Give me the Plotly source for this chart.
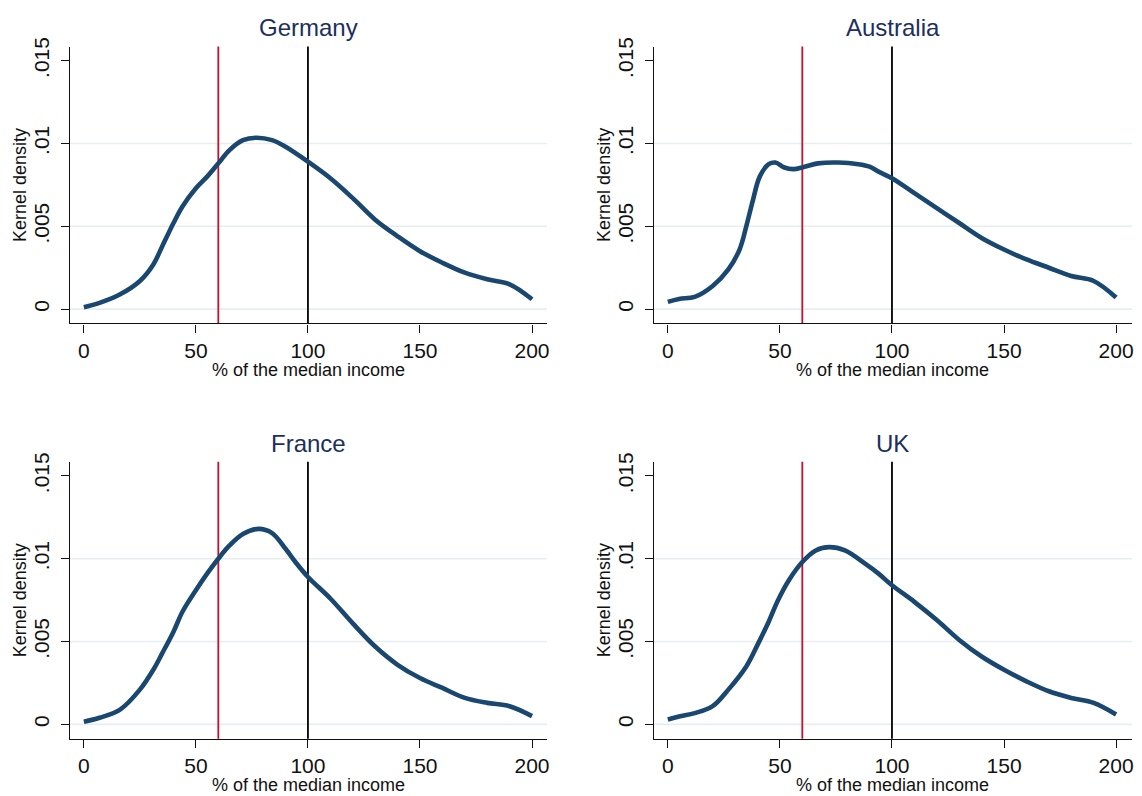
import plotly.graph_objects as go

# ---------------- data ----------------
countries = ["Germany", "Australia", "France", "UK"]

germany_x = [0, 7, 16, 25, 31, 35, 40, 44, 50, 55, 60, 65, 71, 77, 84, 90, 100, 110, 120, 130, 140, 150, 160,
             170, 180, 190, 200]
germany_y = [0.00012, 0.00038, 0.00088, 0.0017, 0.0027, 0.0038, 0.0052, 0.0062, 0.0073, 0.0080, 0.0088, 0.0096,
             0.0102, 0.01035, 0.0102, 0.0098, 0.0089, 0.0079, 0.0067, 0.0054, 0.0044, 0.0035, 0.0028, 0.0022,
             0.0018, 0.0015, 0.0006]

australia_x = [0, 5, 12, 20, 27, 32, 35, 38, 41, 45, 48, 52, 56, 61, 67, 76, 85, 90, 94, 100, 110, 120, 130,
               140, 150, 160, 170, 180, 190, 200]
australia_y = [0.00044, 0.00062, 0.00074, 0.0014, 0.0024, 0.0036, 0.0050, 0.0066, 0.0080, 0.00875, 0.00885,
               0.00855, 0.00845, 0.0086, 0.0088, 0.00885, 0.00875, 0.0086, 0.0083, 0.0079, 0.0070, 0.0061,
               0.0052, 0.0043, 0.0036, 0.0030, 0.0025, 0.0020, 0.0017, 0.0007]

france_x = [0, 7, 16, 25, 31, 35, 40, 44, 50, 55, 60, 65, 71, 78, 84, 90, 95, 100, 110, 120, 130, 140, 150,
            160, 170, 180, 190, 200]
france_y = [0.00016, 0.0004, 0.00088, 0.0021, 0.0033, 0.0043, 0.0056, 0.0068, 0.0081, 0.0091, 0.0100, 0.0108,
            0.0115, 0.0118, 0.01155, 0.0106, 0.0097, 0.0089, 0.0076, 0.0061, 0.0047, 0.0036, 0.0028, 0.0022,
            0.0016, 0.0013, 0.0011, 0.0005]

uk_x = [0, 5, 12, 20, 27, 35, 40, 45, 49, 54, 60, 66, 72, 79, 88, 94, 100, 110, 120, 130, 140, 150, 160, 170,
        180, 190, 200]
uk_y = [0.0003, 0.00048, 0.00068, 0.0011, 0.0021, 0.0035, 0.0048, 0.0062, 0.00745, 0.0087, 0.0098, 0.0105,
        0.0107, 0.0105, 0.0097, 0.0091, 0.0084, 0.0074, 0.0063, 0.0051, 0.0041, 0.0033, 0.0026, 0.0020,
        0.0016, 0.0013, 0.0006]

poverty_line = 60
median_line = 100

x_tickvals = [0, 50, 100, 150, 200]
x_ticktext = ["0", "50", "100", "150", "200"]
y_tickvals = [0, 0.005, 0.01, 0.015]
y_ticktext = ["0", ".005", ".01", ".015"]
grid_vals = [0, 0.005, 0.01]

x_title = "% of the median income"
y_title = "Kernel density"

# ---------------- layout geometry ----------------
W, H = 1142, 796
FONT = "Arial, Liberation Sans, sans-serif"
NAVY = "#1a476f"
TITLE_COL = "#1c2f5e"
GRID_COL = "#e6eef1"

series = [(germany_x, germany_y), (australia_x, australia_y), (france_x, france_y), (uk_x, uk_y)]

# pixel boxes of each plot region: (left, right, top, bottom)
boxes = [(70, 548, 38, 318), (655, 1134, 38, 318), (70, 548, 458, 738), (655, 1134, 458, 738)]
x_ranges = [[-6.24, 206.7], [-6.24, 207.1], [-6.24, 206.7], [-6.24, 207.1]]
y_range = [-0.00086, 0.01585]

fig = go.Figure()
annotations = []
shapes = []

for i, (name, (xs, ys), box, xr) in enumerate(zip(countries, series, boxes, x_ranges)):
    n = "" if i == 0 else str(i + 1)
    L, R, T, B = box
    xd = [L / W, R / W]
    yd = [1 - B / H, 1 - T / H]
    fig.add_trace(go.Scatter(x=xs, y=ys, mode="lines", xaxis="x" + n, yaxis="y" + n,
                             line=dict(color=NAVY, width=4.6, shape="spline", smoothing=1.0),
                             showlegend=False, hoverinfo="x+y"))
    fig.layout["xaxis" + n] = dict(
        domain=xd, anchor="y" + n, range=xr, tickvals=x_tickvals, ticktext=x_ticktext,
        showgrid=False, zeroline=False, showline=True, linecolor="#111111", linewidth=1.3,
        ticks="outside", ticklen=8, tickwidth=1.3, tickcolor="#111111", ticklabelstandoff=0,
        tickfont=dict(family=FONT, size=21, color="#111111"))
    fig.layout["yaxis" + n] = dict(
        domain=yd, anchor="x" + n, range=y_range, tickvals=y_tickvals, ticktext=y_ticktext,
        tickangle=-90, showgrid=False, zeroline=False, showline=True, linecolor="#111111",
        linewidth=1.3, ticks="outside", ticklen=8, tickwidth=1.3, tickcolor="#111111",
        ticklabelstandoff=3, tickfont=dict(family=FONT, size=21, color="#111111"))
    # grid lines
    for g in grid_vals:
        shapes.append(dict(type="line", xref="x" + n + " domain", yref="y" + n, x0=0, x1=1, y0=g, y1=g,
                           line=dict(color=GRID_COL, width=1.6), layer="below"))
    # reference lines
    shapes.append(dict(type="line", xref="x" + n, yref="y" + n + " domain", x0=poverty_line, x1=poverty_line,
                       y0=0, y1=1, line=dict(color="#c8102e", width=1.8), layer="below"))
    shapes.append(dict(type="line", xref="x" + n, yref="y" + n + " domain", x0=median_line, x1=median_line,
                       y0=0, y1=1, line=dict(color="#000000", width=1.8), layer="below"))
    cx = (L + R) / 2 / W
    # panel title
    annotations.append(dict(text=name, x=cx, y=1 - (T - 19) / H, xref="paper", yref="paper",
                            xanchor="center", yanchor="middle", showarrow=False,
                            font=dict(family=FONT, size=24, color=TITLE_COL)))
    # x title
    annotations.append(dict(text=x_title, x=cx, y=1 - (B + 47) / H, xref="paper", yref="paper",
                            xanchor="center", yanchor="middle", showarrow=False,
                            font=dict(family=FONT, size=18, color="#111111")))
    # y title
    annotations.append(dict(text=y_title, x=(L - 50) / W, y=1 - (T + B) / 2 / H, xref="paper", yref="paper",
                            xanchor="center", yanchor="middle", textangle=-90, showarrow=False,
                            font=dict(family=FONT, size=18, color="#111111")))

fig.update_layout(width=W, height=H, margin=dict(l=0, r=0, t=0, b=0),
                  paper_bgcolor="white", plot_bgcolor="white",
                  annotations=annotations, shapes=shapes, showlegend=False,
                  font=dict(family=FONT))
fig.write_html("out.html", config={"displayModeBar": False},
               post_script="document.body.style.margin='0';")
